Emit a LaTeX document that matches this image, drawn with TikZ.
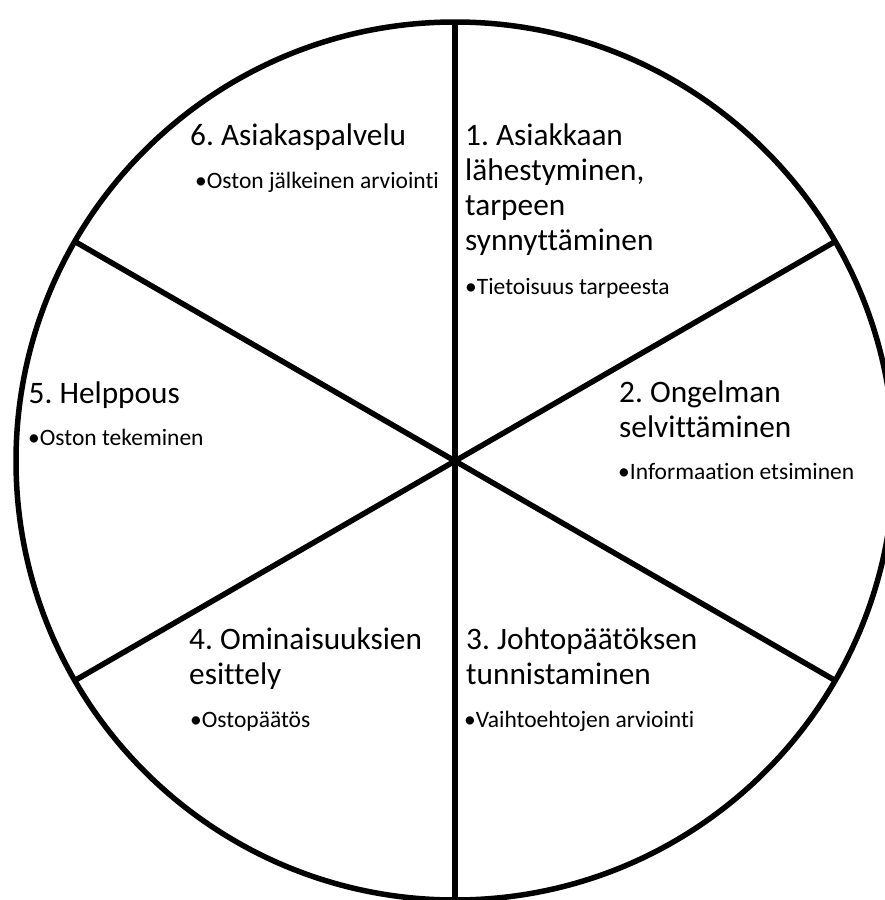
\documentclass[tikz,border=0pt]{standalone}
\usepackage{fontspec}
\setmainfont{Carlito}[Ligatures=NoCommon]
\begin{document}
\frenchspacing
\begin{tikzpicture}[x=1pt,y=-1pt,
  rim/.style={line width=5.5pt},
  spoke/.style={line width=5.5pt},
  title/.style={anchor=base west,inner sep=0pt,align=left,font=\fontsize{31.3}{34.7}\selectfont},
  bullet/.style={anchor=base west,inner sep=0pt,font=\fontsize{23.5}{28}\selectfont}]
\useasboundingbox (0,0) rectangle (885,900);
\coordinate (c) at (455,461);
\draw[rim] (c) circle[radius=439pt];
\path (c) ++(0,-439) coordinate (pt) (c) ++(0,439) coordinate (pb);
\path (c) ++(380.2,-219.5) coordinate (p30) (c) ++(380.2,219.5) coordinate (pm30);
\path (c) ++(-380.2,-219.5) coordinate (p150) (c) ++(-380.2,219.5) coordinate (p210);
\draw[spoke] (pt) -- (pb);
\draw[spoke] (p150) -- (pm30);
\draw[spoke] (p210) -- (p30);
% sector 6
\node[title] (t6) at (190,145) {6. Asiakaspalvelu};
\node[bullet] (b6) at (195,188.3) {•Oston jälkeinen arviointi};
% sector 1 (anchor = baseline of last line)
\node[title] (t1) at (465,250) {1. Asiakkaan\\lähestyminen,\\tarpeen\\synnyttäminen};
\node[bullet] (b1) at (465,294) {•Tietoisuus tarpeesta};
% sector 2
\node[title] (t2) at (619,437.3) {2. Ongelman\\selvittäminen};
\node[bullet] (b2) at (618,479) {•Informaation etsiminen};
% sector 3
\node[title] (t3) at (466,684.3) {3. Johtopäätöksen\\tunnistaminen};
\node[bullet] (b3) at (464,727.3) {•Vaihtoehtojen arviointi};
% sector 4
\node[title] (t4) at (189,684.3) {4. Ominaisuuksien\\esittely};
\node[bullet] (b4) at (190,727.3) {•Ostopäätös};
% sector 5
\node[title] (t5) at (28.5,403.3) {5. Helppous};
\node[bullet] (b5) at (28,445) {•Oston tekeminen};
\end{tikzpicture}
\end{document}
